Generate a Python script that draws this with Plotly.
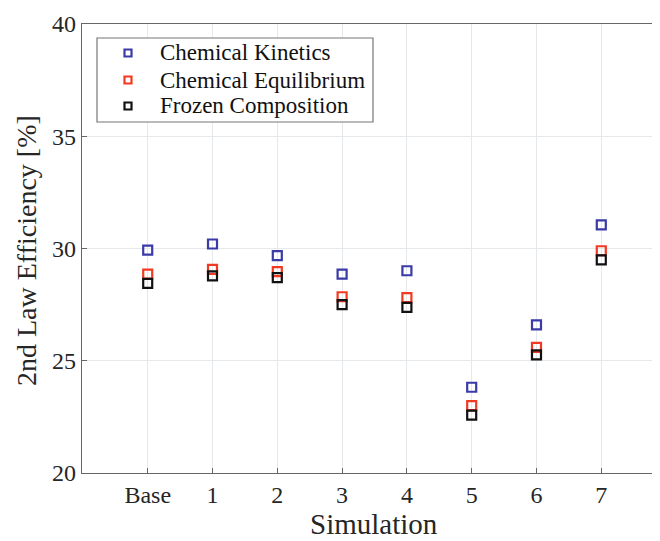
import plotly.graph_objects as go

categories = ["Base", "1", "2", "3", "4", "5", "6", "7"]
kinetics = [29.93, 30.20, 29.68, 28.86, 29.01, 23.82, 26.60, 31.05]
equilibrium = [28.86, 29.07, 28.97, 27.85, 27.81, 23.00, 25.60, 29.90]
frozen = [28.45, 28.78, 28.70, 27.50, 27.38, 22.58, 25.26, 29.49]

names = ["Chemical Kinetics", "Chemical Equilibrium", "Frozen Composition"]
colors = ["#3a3aa8", "#f23a22", "#111111"]
values = [kinetics, equilibrium, frozen]

xpos = list(range(len(categories)))
FONT = "Liberation Serif"
TXT = "#262626"

# page has an 8px body margin; figure sized to fit the 660x541 window
OFF = 8
W, H = 660 - OFF, 541 - OFF
L_S, T_S, R_S, B_S = 82, 24, 660, 473   # plot-area edges in screen pixels
PW, PH = R_S - L_S, B_S - T_S


def px(x):
    return (x - L_S) / PW


def py(y):
    return (B_S - y) / PH


fig = go.Figure()
for name, vals, col in zip(names, values, colors):
    fig.add_trace(go.Scatter(
        x=xpos, y=vals, mode="markers", name=name,
        marker=dict(symbol="square-open", size=9, color=col,
                    line=dict(width=2.2, color=col)),
    ))

shapes = [dict(type="rect", xref="paper", yref="paper",
               x0=px(97), x1=px(373), y0=py(122), y1=py(38),
               line=dict(color="#777777", width=1.2), fillcolor="white", layer="above")]
annotations = []
rows = [53, 80, 106]
for name, col, ry in zip(names, colors, rows):
    shapes.append(dict(type="rect", xref="paper", yref="paper",
                       x0=px(124.5), x1=px(131.5), y0=py(ry + 3.5), y1=py(ry - 3.5),
                       line=dict(color=col, width=2.2), fillcolor="white", layer="above"))
    annotations.append(dict(xref="paper", yref="paper", x=px(158), y=py(ry),
                            xanchor="left", yanchor="middle", showarrow=False,
                            text=name, font=dict(family=FONT, size=23, color="#111111")))

annotations.append(dict(xref="paper", yref="paper", x=px(374), y=py(524),
                        xanchor="center", yanchor="middle", showarrow=False,
                        text="Simulation", font=dict(family=FONT, size=29, color=TXT)))
annotations.append(dict(xref="paper", yref="paper", x=px(26), y=py(251),
                        xanchor="center", yanchor="middle", showarrow=False, textangle=-90,
                        text="2nd Law Efficiency [%]", font=dict(family=FONT, size=28, color=TXT)))

fig.update_layout(
    width=W, height=H,
    margin=dict(l=L_S - OFF, r=0, t=T_S - OFF, b=H - (B_S - OFF), pad=0),
    paper_bgcolor="white", plot_bgcolor="white",
    font=dict(family=FONT, color=TXT, size=22),
    showlegend=False,
    shapes=shapes,
    annotations=annotations,
)
fig.update_xaxes(
    range=[-1.014, 7.906], tickvals=xpos, ticktext=categories,
    showgrid=True, gridcolor="#e6e9eb", gridwidth=1,
    showline=True, linecolor="#666666", linewidth=1.3, mirror=True,
    ticks="inside", ticklen=5, tickcolor="#666666",
    tickfont=dict(family=FONT, size=24, color=TXT),
    automargin=False, zeroline=False,
)
fig.update_yaxes(
    range=[20, 40], tickvals=[20, 25, 30, 35, 40],
    showgrid=True, gridcolor="#e6e9eb", gridwidth=1,
    showline=True, linecolor="#666666", linewidth=1.3, mirror=False,
    ticks="inside", ticklen=5, tickcolor="#666666",
    tickfont=dict(family=FONT, size=24, color=TXT),
    automargin=False, zeroline=False,
)

fig.write_html("out.html")
